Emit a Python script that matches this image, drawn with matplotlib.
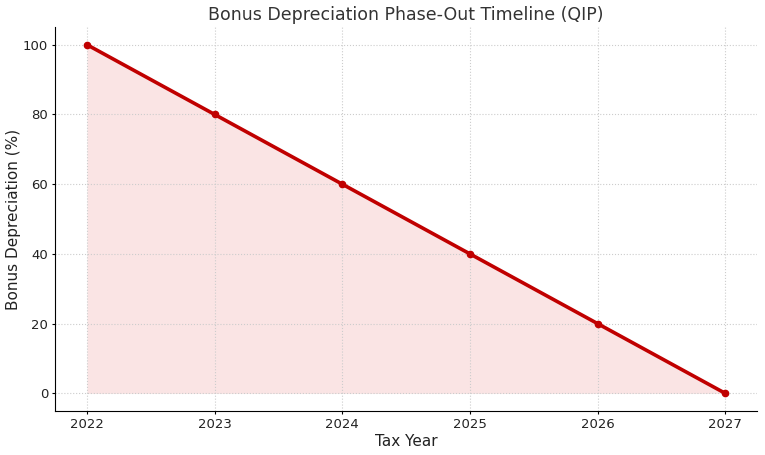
import matplotlib
matplotlib.use("Agg")
import matplotlib.pyplot as plt

years = [2022, 2023, 2024, 2025, 2026, 2027]
bonus_pct = [100, 80, 60, 40, 20, 0]

fig, ax = plt.subplots(figsize=(7.65, 4.55), dpi=100)
ax.plot(years, bonus_pct, color="#c00000", linewidth=2.6, marker="o", markersize=4.5)
ax.fill_between(years, bonus_pct, color="#d62728", alpha=0.12, linewidth=0)
ax.set_title("Bonus Depreciation Phase-Out Timeline (QIP)", fontsize=12.5, color="#333333", pad=5)
ax.set_xlabel("Tax Year", fontsize=11, color="#222222", labelpad=2)
ax.set_ylabel("Bonus Depreciation (%)", fontsize=11, color="#222222", labelpad=1)
ax.tick_params(labelsize=9.5, length=2, pad=3, labelcolor="#222222")
ax.set_xticks(years)
ax.grid(True, linestyle=":", color="#cccccc", linewidth=0.8)
ax.spines["top"].set_visible(False)
ax.spines["right"].set_visible(False)
fig.subplots_adjust(left=0.072, right=0.99, top=0.94, bottom=0.097)
fig.savefig("out.png", dpi=100)
